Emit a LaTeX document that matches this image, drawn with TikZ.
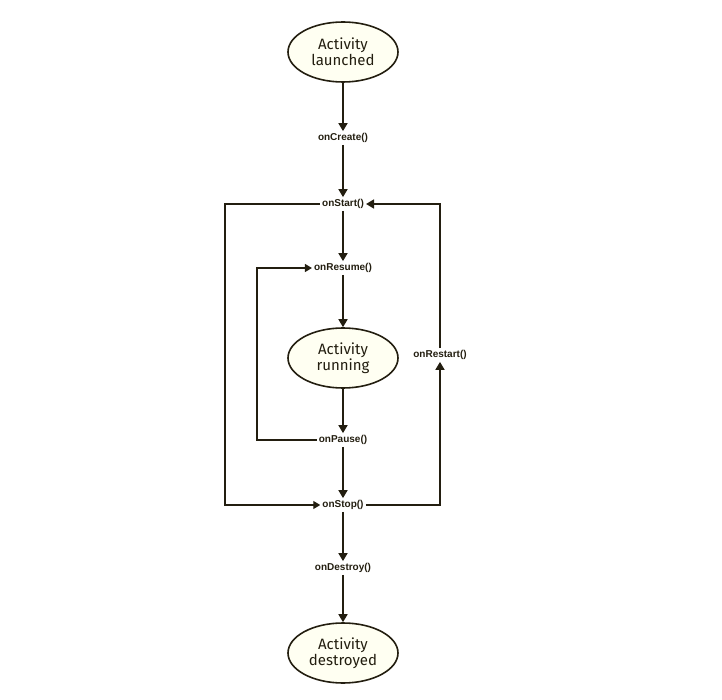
\documentclass[tikz,border=0pt]{standalone}
\usepackage{fontspec}
\setmainfont{Liberation Sans}
\newfontfamily\handfont{Fira Sans}
\usetikzlibrary{shapes.geometric,arrows.meta}
\definecolor{ink}{HTML}{231E10}
\definecolor{cream}{HTML}{FFFFF2}
\begin{document}
\begin{tikzpicture}[x=1pt,y=-1pt,
  state/.style={ellipse,draw=ink,line width=1.6pt,fill=cream,minimum width=110pt,minimum height=60pt,inner sep=0pt,align=center,font=\handfont\fontsize{15}{16}\selectfont,text=ink},
  call/.style={font=\bfseries\fontsize{10}{12}\selectfont,text=ink,inner sep=2pt},
  flow/.style={draw=ink,line width=1.6pt,-{Triangle[length=8pt,width=9pt]}},
  loop/.style={draw=ink,line width=1.1pt,-{Triangle[length=7pt,width=8pt]}}]
\useasboundingbox (0,0) rectangle (722,700);
\node[state] (launch) at (343,52) {Activity\\launched};
\node[call] (create) at (343,138) {onCreate()};
\node[call] (start) at (343,204) {onStart()};
\node[call] (resume) at (343,268) {onResume()};
\node[state] (run) at (343,358) {Activity\\running};
\node[call] (pause) at (343,440) {onPause()};
\node[call] (stop) at (343,505) {onStop()};
\node[call] (destroy) at (343,568) {onDestroy()};
\node[state] (dest) at (343,653) {Activity\\destroyed};
\node[call] (restart) at (440,355) {onRestart()};
\coordinate (l1) at (225,204);
\coordinate (l2) at (225,505);
\coordinate (i1) at (257,440);
\coordinate (i2) at (257,268);
\coordinate (r1) at (440,505);
\coordinate (r2) at (440,204);
\draw[flow] (launch) -- (create);
\draw[flow] (create) -- (start);
\draw[flow] (start) -- (resume);
\draw[flow] (resume) -- (run);
\draw[flow] (run) -- (pause);
\draw[flow] (pause) -- (stop);
\draw[flow] (stop) -- (destroy);
\draw[flow] (destroy) -- (dest);
\draw[loop] (start.west) -- (l1) -- (l2) -- (stop.west);
\draw[loop] (pause.west) -- (i1) -- (i2) -- (resume.west);
\draw[flow] (stop.east) -- (r1) -- (restart.south);
\draw[flow] (restart.north) -- (r2) -- (start.east);
\end{tikzpicture}
\end{document}
